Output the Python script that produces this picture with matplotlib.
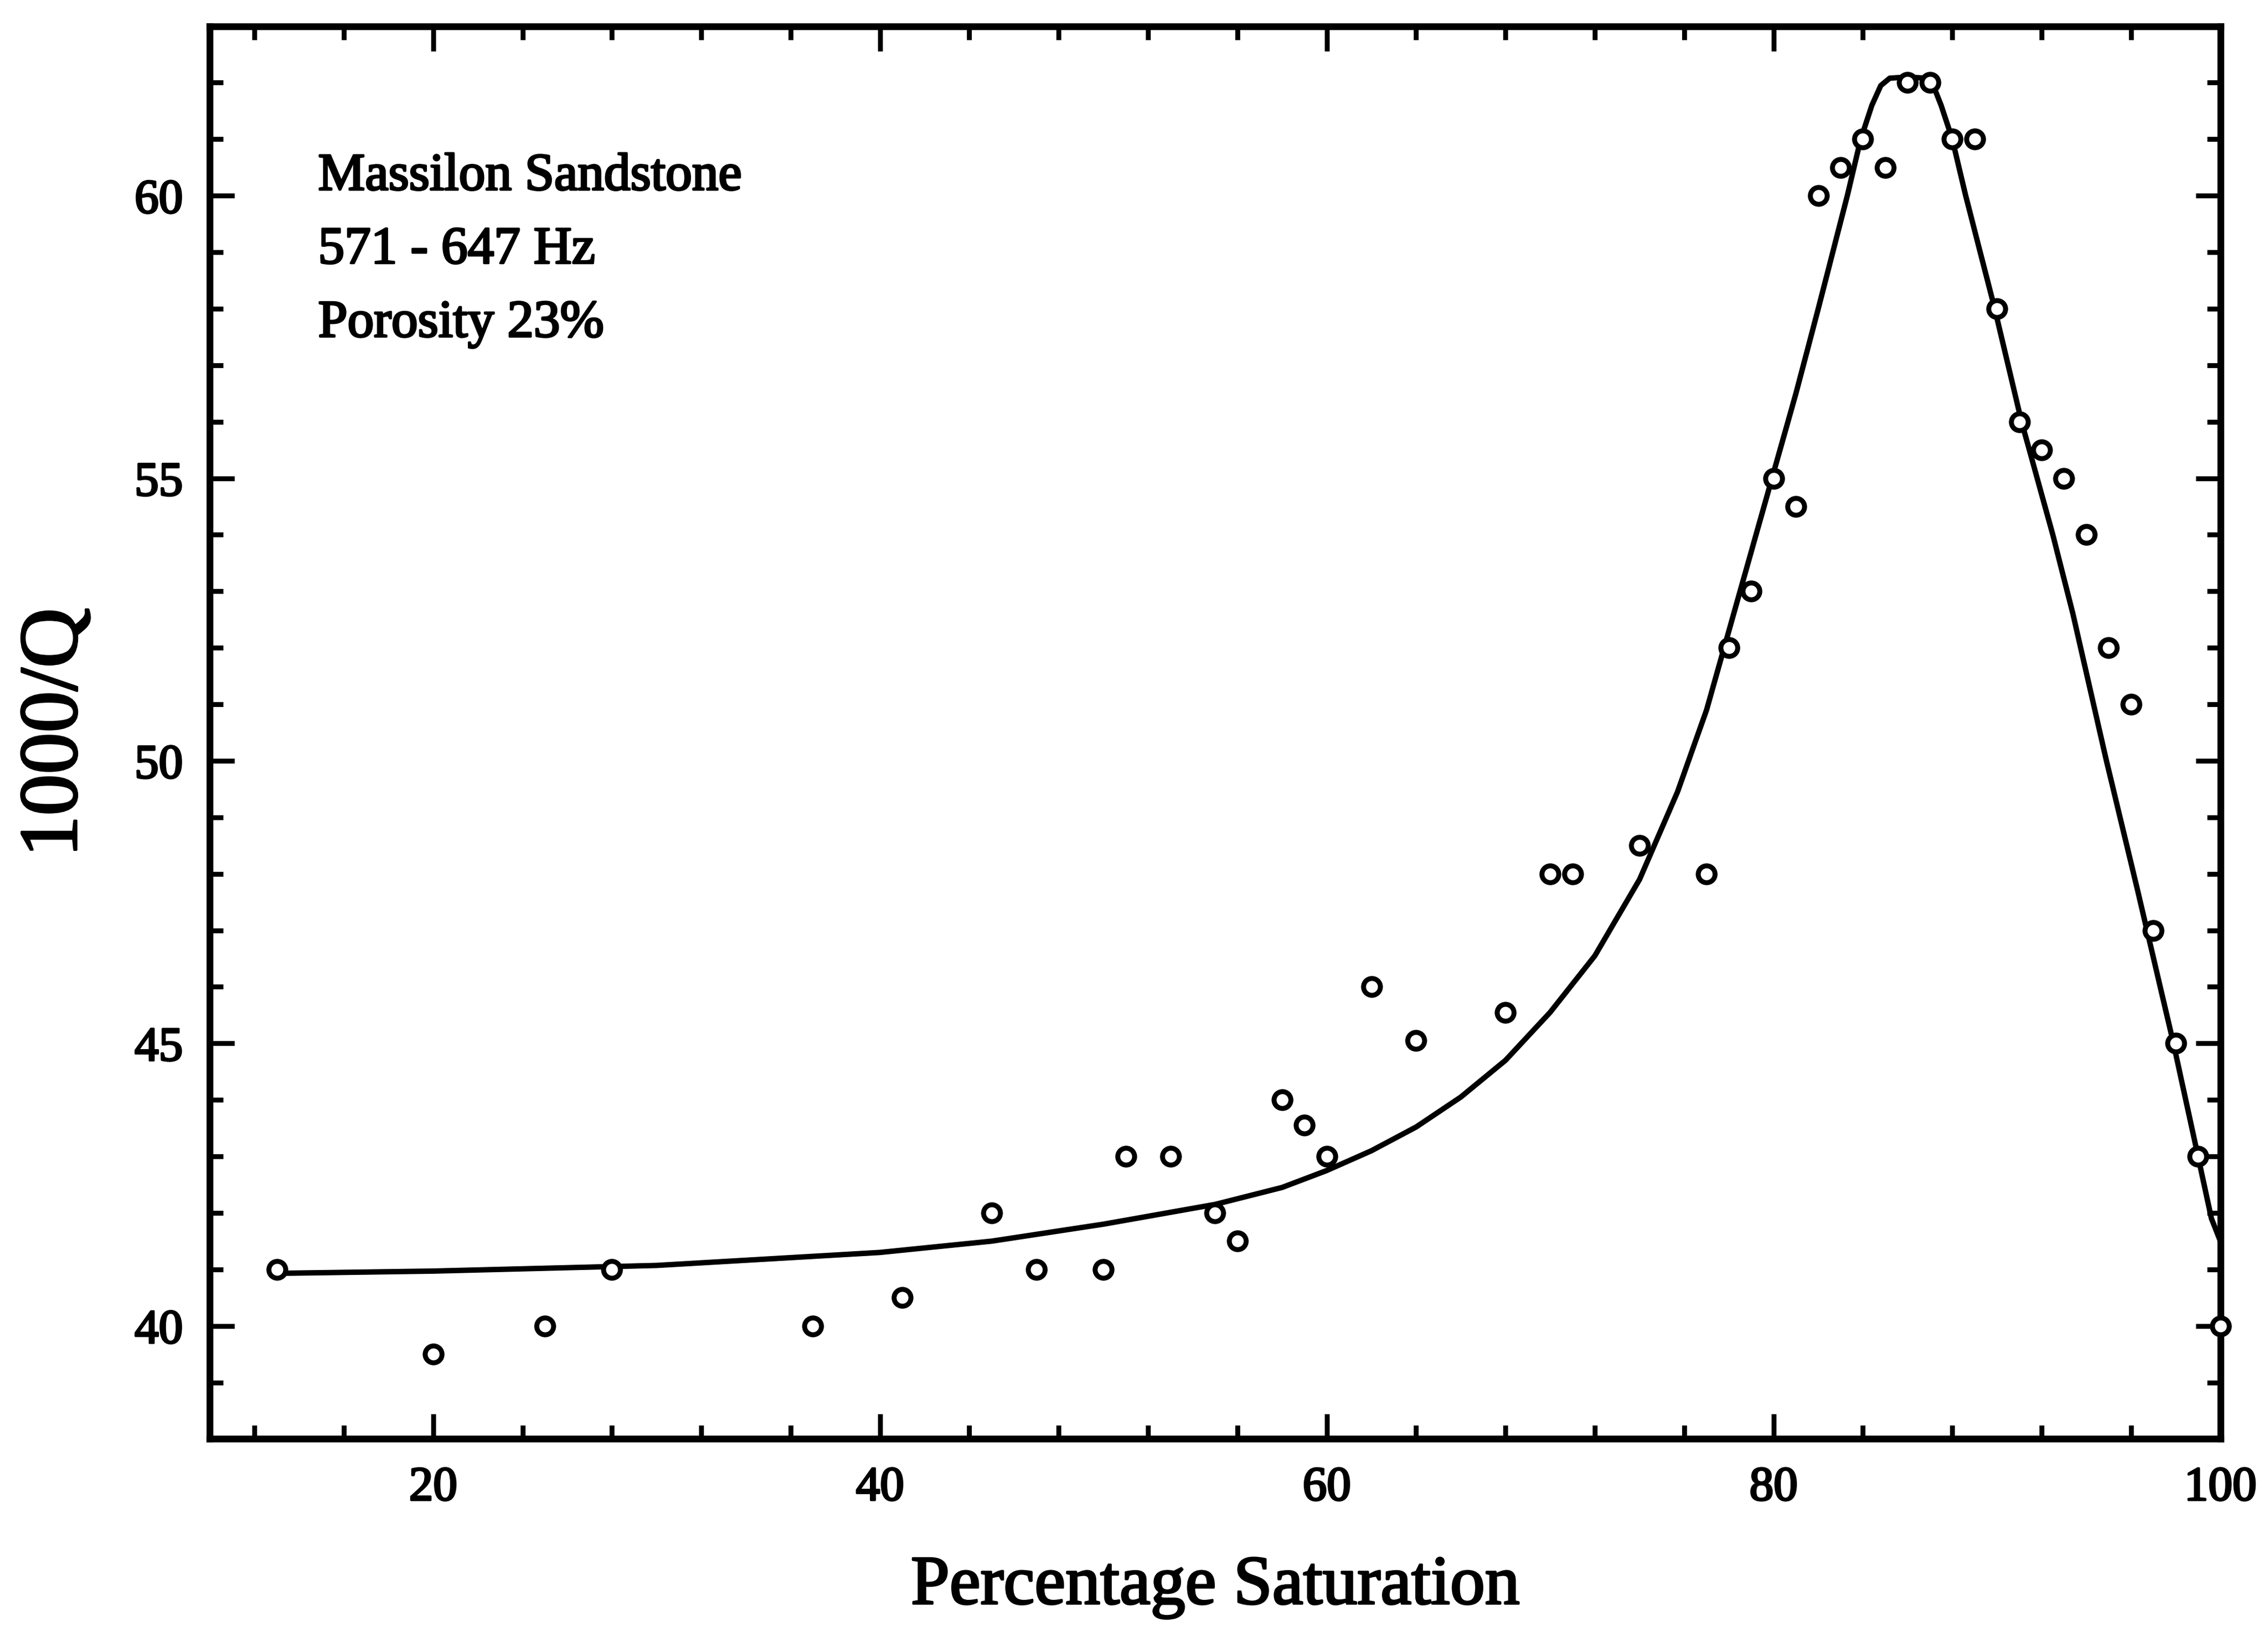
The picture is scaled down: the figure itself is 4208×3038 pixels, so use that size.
import matplotlib
matplotlib.use("Agg")
import matplotlib.pyplot as plt
import matplotlib.patheffects as pe
from matplotlib.ticker import MultipleLocator

plt.rcParams['font.family'] = ['Liberation Serif', 'DejaVu Serif']

# Measured data points (Percentage Saturation, 1000/Q)
sat = [13, 20, 25, 28, 37, 41, 45, 47, 50, 51, 53, 55, 56, 58, 59, 60, 62, 64,
       68, 70, 71, 74, 77, 78, 79, 80, 81, 82, 83, 84, 85, 86, 87, 88, 89, 90,
       91, 92, 93, 94, 95, 96, 97, 98, 99, 100]
invq = [41.0, 39.5, 40.0, 41.0, 40.0, 40.5, 42.0, 41.0, 41.0, 43.0, 43.0, 42.0,
        41.5, 44.0, 43.55, 43.0, 46.0, 45.05, 45.55, 48.0, 48.0, 48.5, 48.0,
        52.0, 53.0, 55.0, 54.5, 60.0, 60.5, 61.0, 60.5, 62.0, 62.0, 61.0, 61.0,
        58.0, 56.0, 55.5, 55.0, 54.0, 52.0, 51.0, 47.0, 45.0, 43.0, 40.0]

# Fitted curve
curve_x = [13, 20, 30, 40, 45, 50, 55, 58, 60, 62, 64, 66, 68, 70, 72, 74,
           75.7, 77, 78, 79, 80, 81, 82, 83.3, 83.9, 84.4, 84.8, 85.2,
           86, 86.8, 87.1, 87.5, 88.0, 88.6, 89.9, 91.1, 92.5, 93.4, 94.9,
           96.3, 97.9, 99.0, 99.6, 100]
curve_y = [40.93, 40.97, 41.07, 41.3, 41.5, 41.8, 42.15, 42.45, 42.75, 43.1,
           43.52, 44.05, 44.7, 45.55, 46.55, 47.9, 49.45, 50.9, 52.3, 53.7,
           55.1, 56.5, 58.0, 60.0, 61.0, 61.6, 61.95, 62.08, 62.1, 62.08,
           62.0, 61.6, 61.0, 60.0, 58.0, 56.0, 54.0, 52.6, 50.0, 47.7, 45.0,
           43.0, 41.9, 41.5]

x_ticks = [20, 40, 60, 80, 100]
y_ticks = [40, 45, 50, 55, 60]
annot_lines = ["Massilon Sandstone", "571 - 647 Hz", "Porosity 23%"]

ink = [pe.withStroke(linewidth=0.9, foreground='black')]

fig = plt.figure(figsize=(4208 / 300, 3038 / 300), dpi=300)
ax = fig.add_axes([0.0925, 0.121, 0.979 - 0.0925, 0.984 - 0.121])

ax.plot(curve_x, curve_y, color='black', lw=2.4, solid_joinstyle='round',
        solid_capstyle='round', zorder=2)
ax.plot(sat, invq, linestyle='none', marker='o', markersize=7.5,
        markerfacecolor='white', markeredgecolor='black', markeredgewidth=2.2,
        zorder=3, clip_on=False)

ax.set_xlim(10, 100)
ax.set_ylim(38, 63)
ax.set_xticks(x_ticks)
ax.set_yticks(y_ticks)
ax.xaxis.set_minor_locator(MultipleLocator(4))
ax.yaxis.set_minor_locator(MultipleLocator(1))

ax.tick_params(which='both', direction='in', top=True, right=True, width=2.2)
ax.tick_params(which='major', length=11, labelsize=21.5, pad=12)
ax.tick_params(which='minor', length=6)
for s in ax.spines.values():
    s.set_linewidth(3.0)

for lab in ax.get_xticklabels() + ax.get_yticklabels():
    lab.set_path_effects(ink)

ax.set_xlabel("Percentage Saturation", fontsize=31, labelpad=20, path_effects=ink)
ax.set_ylabel("1000/Q", fontsize=37, labelpad=18, path_effects=ink)

for i, t in enumerate(annot_lines):
    ax.text(14.85, 60.33 - i * 1.3, t, fontsize=23.5, ha='left', va='center',
            path_effects=ink)

fig.savefig("out.png", dpi=300, facecolor='white')
